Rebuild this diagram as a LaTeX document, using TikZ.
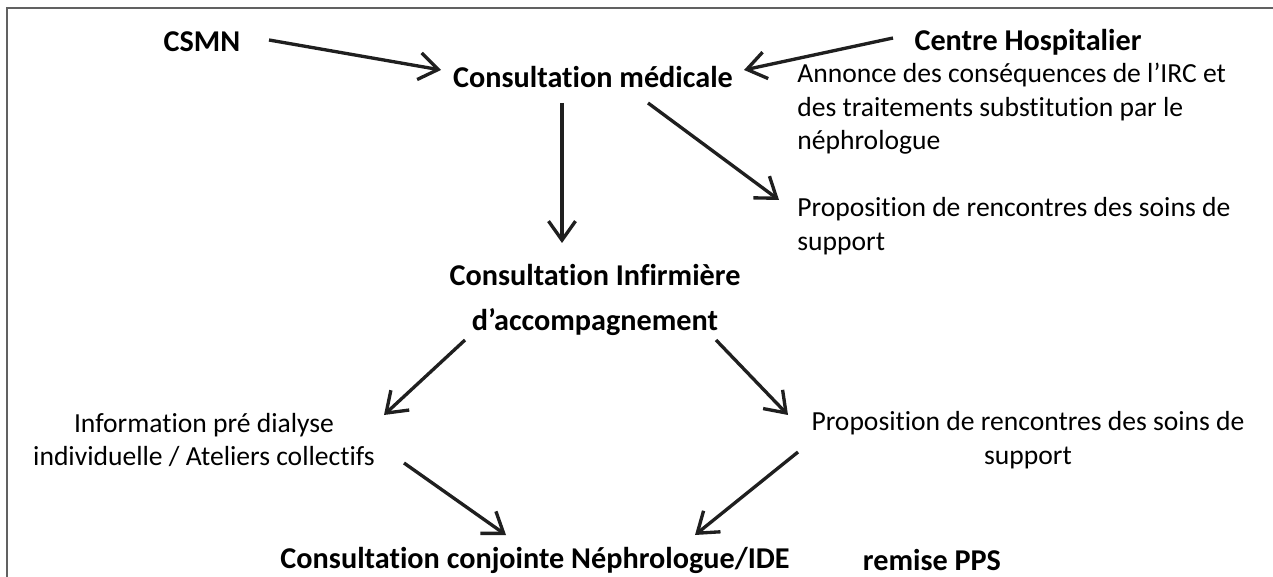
\documentclass[tikz,border=0pt]{standalone}
\usepackage{fontspec}
\setmainfont{Carlito}[Ligatures=NoCommon]
\usetikzlibrary{arrows.meta}
\tikzset{
  % labels of the chart, plain and bold
  lbl/.style={inner sep=0pt, font=\fontsize{15.7}{19.1}\selectfont},
  blbl/.style={inner sep=0pt, font=\fontsize{17.2}{21}\selectfont\bfseries},
  % thick arrow with an open head
  flow/.style={draw=black!88, line width=1.9pt,
    -{Straight Barb[length=3.8mm,width=5.4mm,line width=1.9pt]}},
  frame/.style={draw=black!62, line width=1.1pt},
}

\begin{document}
\begin{tikzpicture}[x=0.02cm, y=-0.02cm]

  \useasboundingbox (0,0) rectangle (1273,577);
  \draw[frame] (1273,8) -- (7,8) -- (7,577);

  \node [blbl] at (202,42) (csmn) {CSMN};
  \node [blbl] at (593,77) (med) {Consultation médicale};
  \node [blbl] at (1028,42) (ch) {Centre Hospitalier};
  \node [lbl, anchor=west, align=left] at (797,109) (annonce)
    {Annonce des conséquences de l’IRC et\\des traitements substitution par le\\néphrologue};
  \node [lbl, anchor=west, align=left] at (797,226) (propa)
    {Proposition de rencontres des soins de\\support};

  \node [blbl, align=center] at (595,300) (infirm)
    {Consultation Infirmière\\[0.16cm]d’accompagnement};

  \node [lbl, align=center] at (204,440) (info)
    {Information pré dialyse\\individuelle / Ateliers collectifs};
  \node [lbl, align=center] at (1028,440) (propb)
    {Proposition de rencontres des soins de\\support};

  \node [blbl] at (535,560) (conj) {Consultation conjointe Néphrologue/IDE};
  \node [blbl] at (932,560) (pps) {remise PPS};

  % arrows, ends placed from the node centres
  \draw[flow] ([shift={(67,-2)}]csmn.center) -- ([shift={(-152,-7)}]med.center);
  \draw[flow] ([shift={(-135,-4)}]ch.center) -- ([shift={(151,-7)}]med.center);
  \draw[flow] ([shift={(-31,26)}]med.center) -- ([shift={(-33,-57)}]infirm.center);
  \draw[flow] ([shift={(55,26)}]med.center) -- ([shift={(-18,-26)}]propa.west);

  \draw[flow] ([shift={(-130,40)}]infirm.center) -- ([shift={(180,-25)}]info.center);
  \draw[flow] ([shift={(121,40)}]infirm.center) -- ([shift={(-240,-25)}]propb.center);

  \draw[flow] ([shift={(200,23)}]info.center) -- ([shift={(-29,-25)}]conj.center);
  \draw[flow] ([shift={(-230,12)}]propb.center) -- ([shift={(160,-25)}]conj.center);

\end{tikzpicture}
\end{document}
